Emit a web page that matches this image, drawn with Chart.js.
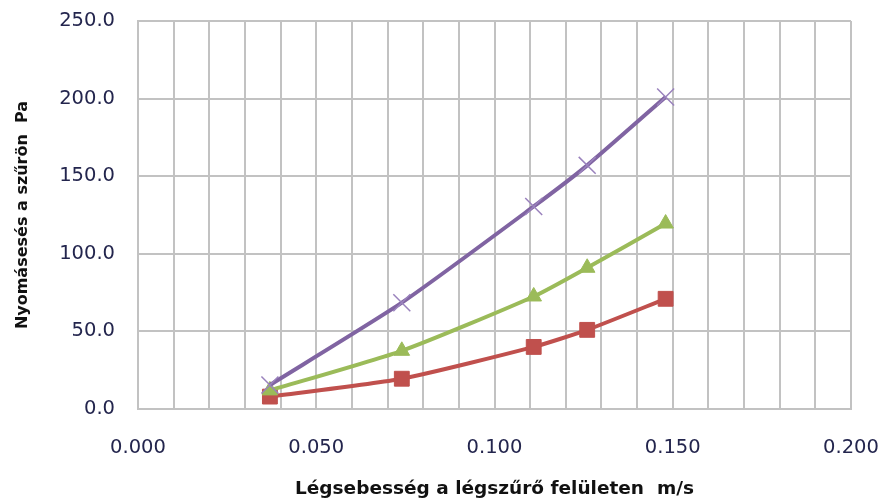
<!DOCTYPE html>
<html><head><meta charset="utf-8">
<script src="https://cdn.jsdelivr.net/npm/chart.js@4"></script>
<style>html,body{margin:0;padding:0;background:#fff}#wrap{width:885px;height:502px}</style>
</head><body><div id="wrap"><canvas id="c" width="885" height="502"></canvas></div>
<script>
const velocity = [0.037, 0.074, 0.111, 0.126, 0.148];
const seriesRed = [8, 19.5, 40, 51, 71];
const seriesGreen = [12, 37.5, 72.5, 91, 119.5];
const seriesPurple = [15.5, 68.5, 130.5, 157, 201];
const xTitle = 'Légsebesség a légszűrő felületen  m/s';
const yTitle = 'Nyomásesés a szűrön  Pa';

const pts = ys => velocity.map((x, i) => ({x, y: ys[i]}));
const tickColor = '#23254d';
const gridColor = '#c2c2c2';

new Chart(document.getElementById('c'), {
  type: 'scatter',
  data: {datasets: [
    {data: pts(seriesPurple), showLine: true, borderColor: '#8064A2', backgroundColor: '#8064A2', borderWidth: 4,
     pointStyle: 'crossRot', pointRadius: 12, pointBorderWidth: 1.5, pointBorderColor: '#9a82bd', tension: 0.2},
    {data: pts(seriesGreen), showLine: true, borderColor: '#9BBB59', backgroundColor: '#9BBB59', borderWidth: 4,
     pointStyle: 'triangle', pointRadius: 9, pointBorderWidth: 1, tension: 0.2},
    {data: pts(seriesRed), showLine: true, borderColor: '#C0504D', backgroundColor: '#C0504D', borderWidth: 4,
     pointStyle: 'rect', pointRadius: 10.5, pointBorderWidth: 1, tension: 0.2}
  ]},
  options: {
    responsive: false, animation: false, devicePixelRatio: 1,
    layout: {padding: {top: 21, right: 34, bottom: 0, left: 0}},
    plugins: {legend: {display: false}, tooltip: {enabled: false}},
    scales: {
      x: {
        type: 'linear', min: 0, max: 0.2,
        afterFit: s => { s.height = 93; s.paddingLeft = 0; s.paddingRight = 0; },
        border: {display: true, color: gridColor, width: 2},
        grid: {color: gridColor, lineWidth: 2, drawTicks: false},
        ticks: {stepSize: 0.01, padding: 27, color: tickColor, autoSkip: false, maxRotation: 0,
          font: {family: 'DejaVu Sans', size: 19.5},
          callback: v => (Math.abs(v * 20 - Math.round(v * 20)) < 1e-6) ? v.toFixed(3) : ''},
        title: {display: true, text: xTitle, color: '#111', padding: {top: 0, bottom: 2},
          font: {family: 'DejaVu Sans', size: 18.5, weight: 'bold'}}
      },
      y: {
        type: 'linear', min: 0, max: 250,
        afterFit: s => { s.width = 138; s.paddingTop = 0; s.paddingBottom = 0; },
        border: {display: true, color: gridColor, width: 2},
        grid: {color: gridColor, lineWidth: 2, drawTicks: false},
        ticks: {stepSize: 50, padding: 23, color: tickColor,
          font: {family: 'DejaVu Sans', size: 19.5},
          callback: v => v.toFixed(1)},
        title: {display: true, text: yTitle, color: '#111', padding: {top: 13, bottom: 0},
          font: {family: 'DejaVu Sans', size: 16, weight: 'bold'}}
      }
    }
  }
});
</script></body></html>
